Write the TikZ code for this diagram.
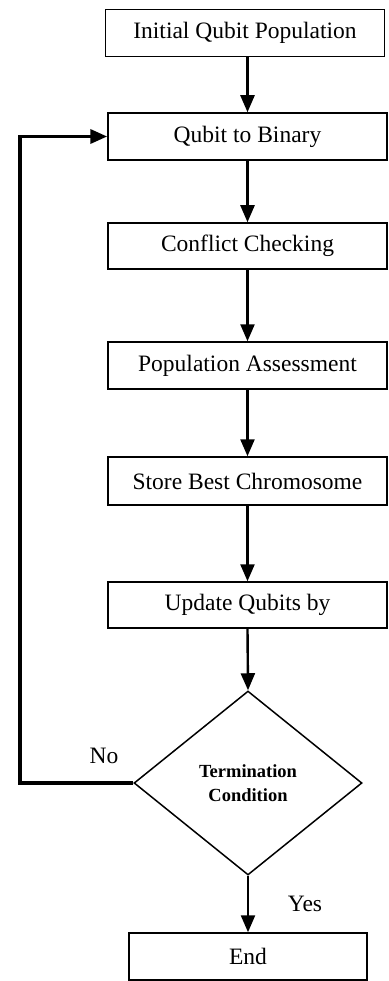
\documentclass[tikz,border=0pt]{standalone}
\usepackage{fontspec}
\setmainfont{Liberation Serif}
\usetikzlibrary{shapes.geometric,arrows.meta}
\begin{document}
\begin{tikzpicture}[x=1pt,y=-1pt,
  procbox/.style={draw,line width=1.5pt,minimum width=279pt,minimum height=47pt,inner sep=0pt,font=\fontsize{23.5}{27}\selectfont},
  decbox/.style={draw,diamond,line width=1.5pt,minimum width=228pt,minimum height=184pt,aspect=1.24,inner sep=0pt,align=center,font=\bfseries\fontsize{18.5}{24}\selectfont},
  flow/.style={line width=2.4pt,-{Triangle[length=17pt,width=14pt]}},
  loopl/.style={line width=3.6pt,-{Triangle[length=17pt,width=14pt]}},
  lbl/.style={font=\fontsize{23.5}{27}\selectfont,inner sep=0pt}]
\useasboundingbox (0,0) rectangle (388,981);
\node[procbox] (b1) at (245,33) {Initial Qubit Population};
\node[procbox] (b2) at (247.5,136.5) {Qubit to Binary};
\node[procbox,minimum height=46pt] (b3) at (247.5,246) {Conflict Checking};
\node[procbox] (b4) at (247.5,365.5) {Population Assessment};
\node[procbox,minimum height=48pt] (b5) at (247.5,481) {Store Best Chromosome};
\node[procbox,minimum height=46pt] (b6) at (247.5,605) {Update Qubits by};
\node[decbox] (d) at (248,783) {Termination\\Condition};
\node[procbox,minimum width=238pt] (e) at (248,956.5) {End};
\coordinate (lc) at (20,783);
\node[lbl] (no) at (104,756) {No};
\node[lbl] (yes) at (305,904) {Yes};
\draw[flow] (b1.south -| b2.north) -- (b2.north);
\draw[flow] (b2) -- (b3);
\draw[flow] (b3) -- (b4);
\draw[flow] (b4) -- (b5);
\draw[flow] (b5) -- (b6);
\draw[flow] (b6.south) -- (d.north);
\draw[flow] (d.south) -- (e.north);
\draw[loopl] (d.west) -- (lc) |- (b2.west);
\end{tikzpicture}
\end{document}
